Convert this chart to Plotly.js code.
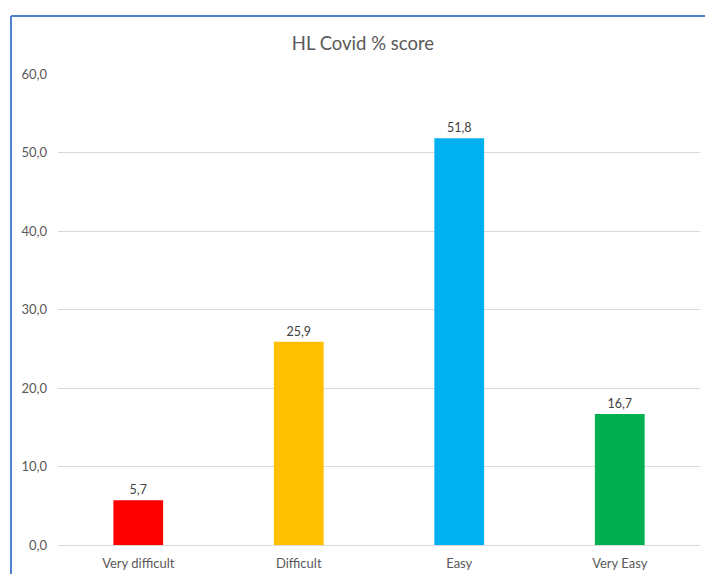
<!DOCTYPE html>
<html>
<head>
<meta charset="utf-8">
<script src="https://cdn.plot.ly/plotly-3.0.1.min.js"></script>
<style>html,body{margin:0;padding:0;background:#fff;}#chart{width:705px;height:574px;}</style>
</head>
<body>
<div id="chart"></div>
<script>
const categories = ["Very difficult", "Difficult", "Easy", "Very Easy"];
const values = [5.7, 25.9, 51.8, 16.7];
const barColors = ["#FF0000", "#FFC000", "#00B0F0", "#00B050"];
const yTicks = [0, 10, 20, 30, 40, 50, 60];

const FONT = "Lato, 'Open Sans', sans-serif";

const trace = {
  type: "bar",
  x: categories,
  y: values,
  marker: {color: barColors},
  width: 0.31,
  texttemplate: "%{y:.1f}",
  textposition: "outside",
  cliponaxis: false,
  textfont: {family: FONT, size: 12.5, color: "#404040"},
  hoverinfo: "skip"
};

const layout = {
  width: 705, height: 574,
  margin: {l: 58, r: 5, t: 74, b: 29},
  separators: ",.",
  paper_bgcolor: "#ffffff",
  plot_bgcolor: "#ffffff",
  font: {family: FONT, color: "#595959", size: 13},
  showlegend: false,
  title: {
    text: "HL Covid % score",
    x: 0.475, xref: "paper", xanchor: "center",
    y: 1 - 44/574, yref: "container", yanchor: "middle",
    font: {family: FONT, size: 18.5, color: "#595959"}
  },
  bargap: 0.69,
  xaxis: {
    type: "category",
    showgrid: false,
    showline: true,
    linecolor: "#d9d9d9",
    linewidth: 1,
    ticks: "",
    tickfont: {family: FONT, size: 13, color: "#595959"},
    ticklabelstandoff: 6,
    fixedrange: true
  },
  yaxis: {
    range: [0, 60],
    tickvals: yTicks,
    tickformat: ".1f",
    showgrid: true,
    gridcolor: "#d9d9d9",
    gridwidth: 1,
    zeroline: false,
    showline: false,
    ticks: "",
    ticklabelstandoff: 10,
    tickfont: {family: FONT, size: 13, color: "#595959"},
    fixedrange: true
  },
  shapes: [
    {type: "line", xref: "paper", yref: "paper",
     x0: -0.0732, x1: -0.0732, y0: -0.2, y1: 1.1231,
     line: {color: "#4F81C8", width: 2}},
    {type: "line", xref: "paper", yref: "paper",
     x0: -0.0732, x1: 1.05, y0: 1.1231, y1: 1.1231,
     line: {color: "#4F81C8", width: 2}}
  ]
};

Plotly.newPlot("chart", [trace], layout, {displayModeBar: false, staticPlot: true});
</script>
</body>
</html>
